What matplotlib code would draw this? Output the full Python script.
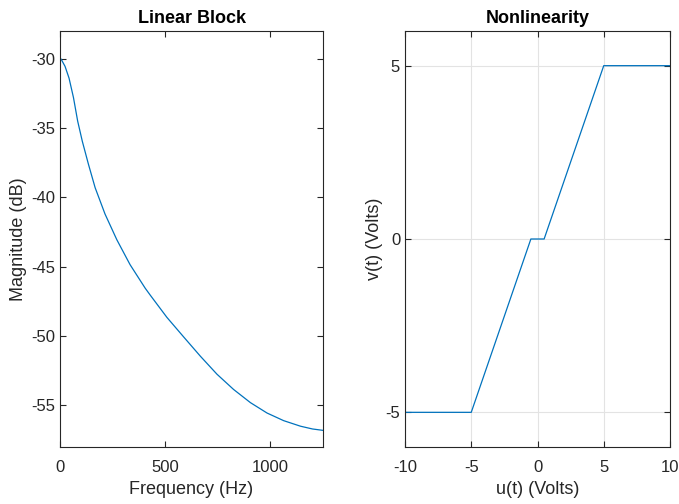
import matplotlib
matplotlib.use("Agg")
import matplotlib.pyplot as plt

plt.rcParams['font.family'] = ['Liberation Sans', 'DejaVu Sans']
plt.rcParams['axes.unicode_minus'] = False

# Linear block magnitude response
freq = [0, 5, 24, 43, 64, 84, 106, 135, 167, 214, 270, 333, 405, 429,
        508, 587, 667, 746, 825, 905, 984, 1063, 1143, 1200, 1250]
mag_db = [-30, -30.02, -30.55, -31.4, -32.8, -34.5, -35.95, -37.6, -39.3,
          -41.2, -43.05, -44.85, -46.55, -47.05, -48.65, -50.05, -51.45,
          -52.75, -53.85, -54.8, -55.55, -56.1, -56.5, -56.7, -56.8]

# Nonlinearity: saturation with dead zone
u_in = [-10, -5, -0.5, 0.5, 5, 10]
v_out = [-5, -5, 0, 0, 5, 5]

LINE = '#0072BD'
DARK = '#262626'


def style(ax):
    for s in ax.spines.values():
        s.set_color(DARK)
        s.set_linewidth(0.8)
    ax.tick_params(direction='in', top=True, right=True, colors=DARK,
                   labelcolor=DARK, labelsize=12, length=4, width=0.8)
    ax.tick_params(axis='x', pad=9)


fig = plt.figure(figsize=(6.79, 5.04), dpi=100)

ax1 = fig.add_axes([60 / 679, 57 / 504, 263 / 679, 416 / 504])
ax1.plot(freq, mag_db, color=LINE, lw=0.9)
ax1.set_xlim(0, 1250)
ax1.set_ylim(-58, -28)
ax1.set_xticks([0, 500, 1000])
ax1.set_yticks([-55, -50, -45, -40, -35, -30])
ax1.set_title("Linear Block", fontsize=13, fontweight='bold', pad=6)
ax1.set_xlabel("Frequency (Hz)", fontsize=13, color=DARK, labelpad=5)
ax1.set_ylabel("Magnitude (dB)", fontsize=13, color=DARK, labelpad=3)
style(ax1)

ax2 = fig.add_axes([405 / 679, 57 / 504, 265 / 679, 416 / 504])
ax2.plot(u_in, v_out, color=LINE, lw=0.9)
ax2.set_xlim(-10, 10)
ax2.set_ylim(-6, 6)
ax2.set_xticks([-10, -5, 0, 5, 10])
ax2.set_yticks([-5, 0, 5])
ax2.grid(True, color='#e3e3e3', lw=0.8)
ax2.set_axisbelow(True)
ax2.set_title("Nonlinearity", fontsize=13, fontweight='bold', pad=6)
ax2.set_xlabel("u(t) (Volts)", fontsize=13, color=DARK, labelpad=5)
ax2.set_ylabel("v(t) (Volts)", fontsize=13, color=DARK, labelpad=2)
style(ax2)

fig.savefig("out.png", dpi=100)
